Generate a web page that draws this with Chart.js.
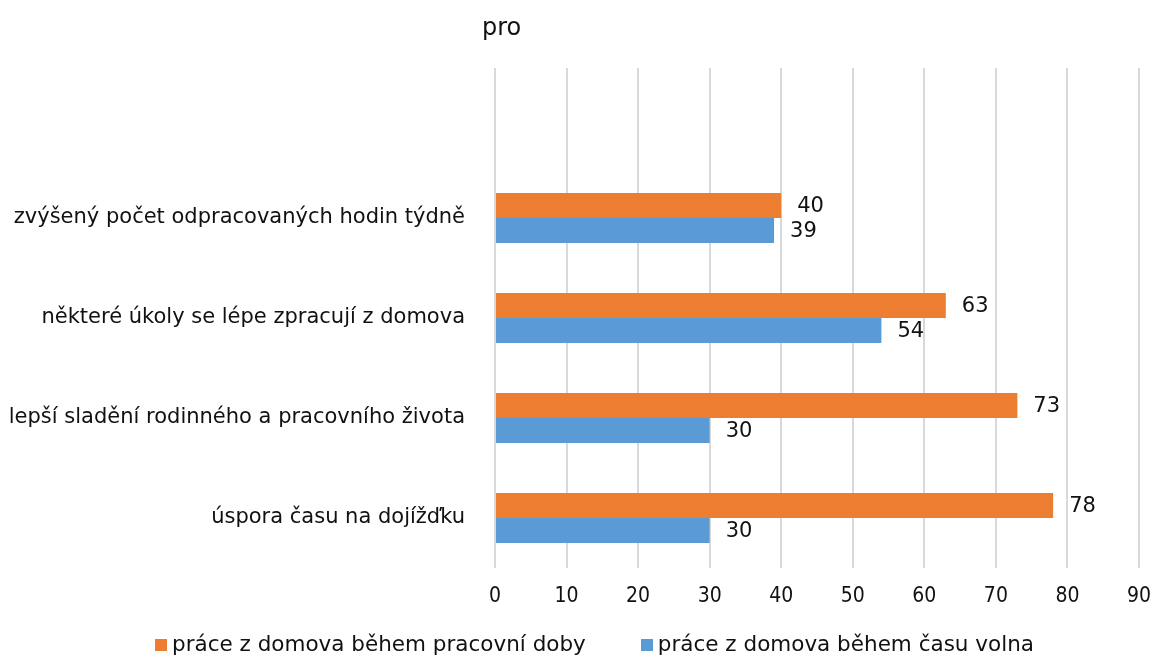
<!DOCTYPE html>
<html>
<head>
<meta charset="utf-8">
<script src="https://cdn.jsdelivr.net/npm/chart.js@4/dist/chart.umd.min.js"></script>
<style>
    body { margin: 0; background: #fff; }
    #wrap { position: relative; width: 1159px; height: 659px; }
    #legend {
        position: absolute; left: 0; width: 1189px; top: 631px;
        display: flex; justify-content: center; gap: 55px;
        font-family: "DejaVu Sans", Verdana, sans-serif; font-size: 21.5px; color: #111;
    }
    #legend span.box { display: inline-block; width: 12px; height: 12px; margin-right: 5px; }
</style>
</head>
<body>
<div id="wrap">
    <canvas id="myChart" width="1159" height="659"></canvas>
    <div id="legend"></div>
</div>
<script>
// Data
const chartTitle = 'pro';
const categories = [
    '',
    'zvýšený počet odpracovaných hodin týdně',
    'některé úkoly se lépe zpracují z domova',
    'lepší sladění rodinného a pracovního života',
    'úspora času na dojížďku'
];
const seriesNames = ['práce z domova během pracovní doby', 'práce z domova během času volna'];
const duringWork = [null, 40, 63, 73, 78];
const freeTime = [null, 39, 54, 30, 30];
const xTicks = [0, 10, 20, 30, 40, 50, 60, 70, 80, 90];

const colors = ['#ED7D31', '#5B9BD5'];
const mainFont = '"DejaVu Sans", Verdana, sans-serif';

// labels to the right of the bars
const valueLabels = {
    id: 'valueLabels',
    afterDatasetsDraw(chart) {
        const ctx = chart.ctx;
        ctx.save();
        ctx.font = '21px ' + mainFont;
        ctx.fillStyle = '#111';
        ctx.textBaseline = 'middle';
        ctx.textAlign = 'left';
        chart.data.datasets.forEach((ds, i) => {
            chart.getDatasetMeta(i).data.forEach((bar, j) => {
                if (ds.data[j] == null) return;
                ctx.fillText(ds.data[j], bar.x + 16, bar.y + 1);
            });
        });
        ctx.restore();
    }
};

// title sits slightly left of the plot
const titlePlugin = {
    id: 'titlePlugin',
    afterDraw(chart) {
        const ctx = chart.ctx;
        ctx.save();
        ctx.font = '24px ' + mainFont;
        ctx.fillStyle = '#111';
        ctx.textBaseline = 'alphabetic';
        ctx.fillText(chartTitle, chart.chartArea.left - 13, 35);
        ctx.restore();
    }
};

const ctx = document.getElementById('myChart').getContext('2d');
new Chart(ctx, {
    type: 'bar',
    data: {
        labels: categories,
        datasets: [
            { label: seriesNames[0], data: duringWork, backgroundColor: colors[0] },
            { label: seriesNames[1], data: freeTime, backgroundColor: colors[1] }
        ]
    },
    options: {
        indexAxis: 'y',
        responsive: false,
        animation: false,
        categoryPercentage: 0.5,
        barPercentage: 1.0,
        layout: { padding: { top: 68, right: 20, bottom: 40, left: 0 } },
        plugins: {
            legend: { display: false },
            tooltip: { enabled: false }
        },
        scales: {
            x: {
                min: 0,
                max: 90,
                afterBuildTicks: scale => { scale.ticks = xTicks.map(v => ({ value: v })); },
                afterFit: scale => {
                    scale.height = 51;
                    scale.paddingLeft = 0;
                    scale.paddingRight = 0;
                },
                grid: { color: '#d9d9d9', lineWidth: 2, drawTicks: false },
                border: { display: false },
                ticks: {
                    padding: 16,
                    color: '#111',
                    maxRotation: 0,
                    font: { family: '"DejaVu Sans Condensed", "DejaVu Sans", sans-serif', size: 21 }
                }
            },
            y: {
                afterFit: scale => { scale.width = 495; },
                grid: { display: false },
                border: { display: false },
                ticks: {
                    padding: 22,
                    color: '#111',
                    font: { family: mainFont, size: 21 }
                }
            }
        }
    },
    plugins: [valueLabels, titlePlugin]
});

// legend as html
const legendEl = document.getElementById('legend');
seriesNames.forEach((name, i) => {
    const item = document.createElement('div');
    item.innerHTML = '<span class="box" style="background:' + colors[i] + '"></span>' + name;
    legendEl.appendChild(item);
});
</script>
</body>
</html>
